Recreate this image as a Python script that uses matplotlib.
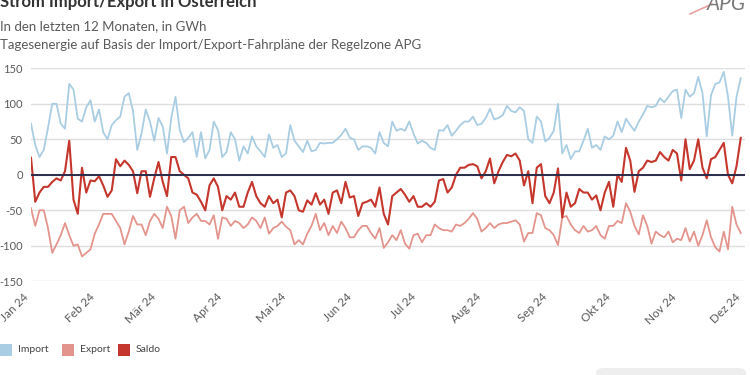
import matplotlib
matplotlib.use("Agg")
import matplotlib.pyplot as plt
from matplotlib.patches import Rectangle, FancyBboxPatch
from matplotlib.lines import Line2D
import pandas as pd

plt.rcParams['font.family'] = ['Lato', 'DejaVu Sans']
plt.rcParams['axes.unicode_minus'] = False

# daily energy, sampled every 2 days from 1 Jan 2024 (GWh)
import_gwh = [
    72, 42, 25, 35, 66, 100, 100, 72, 65, 128, 120, 79, 75, 95, 105, 75, 92, 60, 50, 70,
    77, 82, 110, 115, 90, 35, 58, 92, 75,
    48, 80, 68, 30, 80, 110, 63, 46, 52, 60, 25, 60, 23, 35, 75, 63, 25, 32, 60, 50,
    20, 40, 30, 54, 40, 33, 25, 57,
    38, 42, 25, 30, 70, 48, 40, 32, 48, 33, 35, 45, 44, 45, 45, 50, 56, 65, 52,
    50, 35, 40, 40, 38, 30, 60, 45, 40,
    75, 62, 65, 62, 75, 58, 44, 48, 45, 38, 35, 63, 62, 70, 55, 62, 70, 75, 75,
    82, 70, 72, 80, 93, 78, 80, 84, 97,
    90, 88, 95, 90, 50, 45, 82, 75, 47, 52, 62, 100, 30, 42, 22, 33, 33, 48, 65,
    38, 42, 35, 54, 50, 55, 75, 60, 79, 70,
    62, 75, 85, 97, 95, 97, 108, 102, 110, 118, 120, 80, 120, 110, 115, 138, 115,
    54, 112, 128, 130, 145, 110, 55, 110, 136,
]
export_gwh = [
    -47, -72, -50, -50, -75, -110, -98, -85, -68, -85, -100, -98, -115, -110, -105,
    -83, -70, -55, -55, -55, -65, -75, -98, -80, -58, -70, -70, -85, -65,
    -55, -62, -75, -45, -58, -90, -50, -45, -68, -60, -55, -65, -65, -70, -57, -90,
    -60, -62, -72, -65, -68, -75, -70, -60, -65, -75, -60, -83,
    -75, -72, -66, -73, -78, -98, -92, -98, -83, -72, -55, -78, -68, -85, -72, -82,
    -66, -75, -88, -88, -78, -72, -72, -82, -90, -75, -103, -95,
    -85, -92, -78, -97, -104, -85, -83, -95, -85, -85, -70, -75, -78, -78, -80, -70,
    -72, -68, -62, -54, -62, -80, -75, -68, -75, -70, -68, -68,
    -66, -64, -70, -94, -82, -82, -54, -57, -75, -78, -85, -99, -60, -58, -70, -78,
    -82, -72, -80, -78, -72, -85, -90, -72, -72, -65, -68, -40, -52,
    -72, -84, -57, -72, -97, -80, -85, -88, -80, -95, -90, -92, -75, -94, -80, -100,
    -85, -64, -88, -102, -108, -80, -105, -45, -70, -82,
]
saldo_gwh = [
    24, -38, -25, -17, -17, -10, -5, -8, 5, 48, -35, -55, 10, -25, -8, -9, -2, -15,
    -31, -22, 22, 12, 20, 14, 5, -26, 5, 5, -31,
    -5, 18, -10, -30, 25, 25, 5, 0, -5, -25, -28, -38, -50, -15, -5, -17, -50, -30,
    -35, -25, -45, -45, -25, -10, -30, -40, -45, -30,
    -40, -35, -60, -25, -22, -30, -50, -52, -36, -42, -26, -42, -35, -55, -25, -22,
    -40, -10, -32, -30, -58, -40, -38, -35, -45, -18, -55, -70,
    -30, -25, -20, -28, -38, -30, -45, -45, -40, -45, -38, -8, -6, -25, -18, 0, 10,
    10, 14, 15, 12, -5, 5, 23, -12, 5, 18, 28,
    26, 30, 20, -15, 5, -40, 10, 15, -30, -40, -25, 9, -60, -25, -45, -40, -20, -25,
    -25, -35, -29, -50, -25, -10, -45, 0, -10, 38, 20,
    -24, 5, 10, 20, 18, 20, 32, 25, 20, 35, 30, -8, 50, 8, 20, 50, 10, -5, 22, 25,
    35, 45, 0, -12, 12, 52,
]
month_labels = ["Jan 24", "Feb 24", "Mär 24", "Apr 24", "Mai 24", "Jun 24",
                "Jul 24", "Aug 24", "Sep 24", "Okt 24", "Nov 24", "Dez 24"]
series_names = ["Import", "Export", "Saldo"]

c_import = "#a9cde2"
c_export = "#e3958d"
c_saldo = "#c5362c"
c_text = "#5a5a5a"

dates = pd.date_range("2024-01-01", periods=len(import_gwh), freq="2D")
month_starts = pd.date_range("2024-01-01", periods=12, freq="MS")

fig = plt.figure(figsize=(7.5, 3.75), dpi=100)
ax = fig.add_axes([31 / 750, 1 - 281.3 / 375, 714 / 750, 213 / 375])

ax.plot(dates, import_gwh, color=c_import, lw=1.3, zorder=3)
ax.plot(dates, export_gwh, color=c_export, lw=1.3, zorder=3)
ax.plot(dates, saldo_gwh, color=c_saldo, lw=1.5, zorder=4)
ax.axhline(0, color="#2b2b4b", lw=1.4, zorder=5)

ax.set_ylim(-150, 150)
ax.set_yticks([-150, -100, -50, 0, 50, 100, 150])
ax.set_xlim(pd.Timestamp("2024-01-01"), pd.Timestamp("2024-12-02"))
ax.set_xticks(month_starts)
ax.set_xticklabels(month_labels, rotation=45, ha="right")
ax.grid(axis="y", color="#dedede", lw=1.0, zorder=0)
ax.grid(axis="x", visible=False)
for s in ax.spines.values():
    s.set_visible(False)
ax.tick_params(axis="y", length=0, pad=6, labelsize=8, labelcolor=c_text)
ax.tick_params(axis="x", length=0, pad=7, labelsize=8.5, labelcolor=c_text)

# header
fig.text(0.0, 1.0, "Strom Import/Export in Österreich", fontsize=12,
         fontweight="bold", color="#333333", va="center", ha="left")
fig.text(0.0, 1 - 26 / 375, "In den letzten 12 Monaten, in GWh", fontsize=9.5,
         color=c_text, va="center", ha="left")
fig.text(0.0, 1 - 45 / 375,
         "Tagesenergie auf Basis der Import/Export-Fahrpläne der Regelzone APG",
         fontsize=9.5, color=c_text, va="center", ha="left")
fig.text(0.995, 1 - 4 / 375, "APG", fontsize=15, color="#7a7a7a", style="italic",
         va="center", ha="right")
fig.add_artist(Line2D([690 / 750, 712 / 750], [1 - 14 / 375, 1 - 4 / 375],
                      transform=fig.transFigure, color="#e8a0a0", lw=1.2))

# legend
colors = [c_import, c_export, c_saldo]
box_x = [0, 62, 118]
for name, col, bx in zip(series_names, colors, box_x):
    fig.add_artist(Rectangle((bx / 750, 1 - 356 / 375), 12 / 750, 12 / 375,
                             transform=fig.transFigure, facecolor=col,
                             edgecolor="none"))
    fig.text((bx + 18) / 750, 1 - 350 / 375, name, fontsize=7.5,
             color="#444444", va="center", ha="left")

fig.add_artist(FancyBboxPatch((596 / 750, -8 / 375), 150 / 750, 15 / 375,
                              boxstyle="round,pad=0,rounding_size=0.012",
                              transform=fig.transFigure, facecolor="#eeeeee",
                              edgecolor="none"))

fig.savefig("out.png", dpi=100)
